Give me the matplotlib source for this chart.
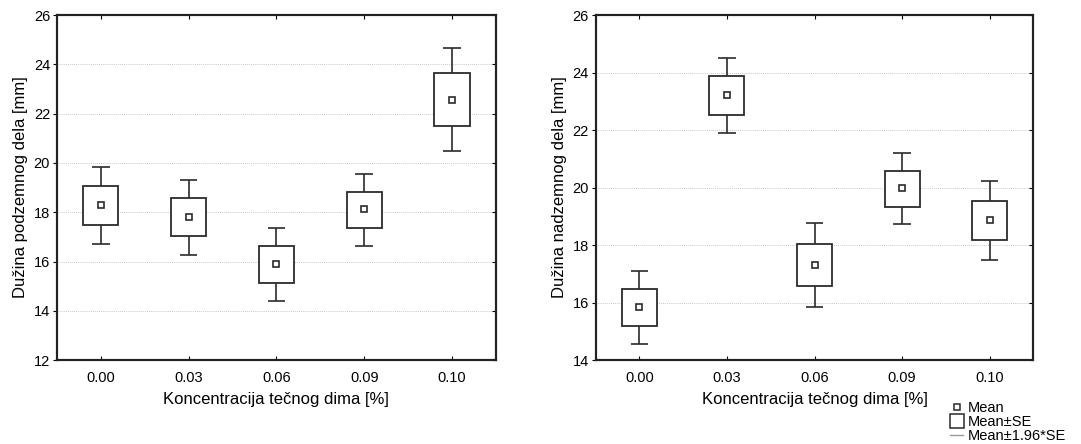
import numpy as np
import matplotlib.pyplot as plt
from matplotlib.lines import Line2D

plt.rcParams['font.family'] = ['Liberation Sans', 'DejaVu Sans']

categories = ['0.00', '0.03', '0.06', '0.09', '0.10']

# left panel: underground part length
pod_mean = [18.30, 17.82, 15.90, 18.12, 22.57]
pod_se_lo = [17.48, 17.02, 15.11, 17.35, 21.50]
pod_se_hi = [19.07, 18.57, 16.63, 18.83, 23.64]
pod_ci_lo = [16.72, 16.27, 14.38, 16.64, 20.48]
pod_ci_hi = [19.84, 19.32, 17.36, 19.55, 24.66]

# right panel: above-ground part length
nad_mean = [15.84, 23.22, 17.32, 19.98, 18.86]
nad_se_lo = [15.17, 22.54, 16.57, 19.32, 18.17]
nad_se_hi = [16.47, 23.87, 18.04, 20.58, 19.55]
nad_ci_lo = [14.56, 21.89, 15.86, 18.72, 17.48]
nad_ci_hi = [17.09, 24.52, 18.76, 21.19, 20.23]

line_col = '#2b2b2b'


def draw_panel(ax, mean, se_lo, se_hi, ci_lo, ci_hi, ylim, ylabel):
    x = np.arange(len(categories))
    se_lo, se_hi = np.array(se_lo), np.array(se_hi)
    ax.vlines(x, ci_lo, se_lo, color=line_col, lw=1.2, zorder=2)
    ax.vlines(x, se_hi, ci_hi, color=line_col, lw=1.2, zorder=2)
    ax.hlines(ci_lo, x - 0.1, x + 0.1, color=line_col, lw=1.2, zorder=2)
    ax.hlines(ci_hi, x - 0.1, x + 0.1, color=line_col, lw=1.2, zorder=2)
    ax.bar(x, se_hi - se_lo, bottom=se_lo, width=0.4, facecolor='white',
           edgecolor=line_col, linewidth=1.3, zorder=3)
    ax.plot(x, mean, ls='none', marker='s', ms=4, mfc='white', mec=line_col,
            mew=1.2, zorder=4)
    ax.set_xlim(-0.5, len(categories) - 0.5)
    ax.set_ylim(*ylim)
    yt = np.arange(ylim[0], ylim[1] + 1, 2)
    ax.set_yticks(yt)
    ax.set_xticks(x)
    ax.set_xticklabels(categories)
    ax.yaxis.grid(True, linestyle=(0, (1, 1.5)), color='#b5b5b5', lw=0.6)
    ax.set_axisbelow(True)
    ax.tick_params(axis='y', direction='out', length=3, labelsize=10.5, pad=2)
    ax.tick_params(axis='x', direction='in', length=3, labelsize=10.5, pad=8,
                   top=True)
    # inward ticks on the right spine
    tw = ax.twinx()
    tw.set_ylim(*ylim)
    tw.set_yticks(yt)
    tw.tick_params(direction='in', length=3, labelright=False)
    for a in (ax, tw):
        for s in a.spines.values():
            s.set_linewidth(1.5)
            s.set_color('#222222')
    ax.set_xlabel('Koncentracija tečnog dima [%]', fontsize=12, labelpad=5)
    ax.set_ylabel(ylabel, fontsize=12, labelpad=4)


fig = plt.figure(figsize=(10.81, 4.44), dpi=100)
ax1 = fig.add_axes([0.0527, 0.189, 0.406, 0.777])
ax2 = fig.add_axes([0.551, 0.189, 0.405, 0.777])

draw_panel(ax1, pod_mean, pod_se_lo, pod_se_hi, pod_ci_lo, pod_ci_hi,
           (12, 26), 'Dužina podzemnog dela [mm]')
draw_panel(ax2, nad_mean, nad_se_lo, nad_se_hi, nad_ci_lo, nad_ci_hi,
           (14, 26), 'Dužina nadzemnog dela [mm]')

handles = [
    Line2D([], [], ls='none', marker='s', ms=4, mfc='white', mec=line_col, mew=1.1),
    Line2D([], [], ls='none', marker='s', ms=10, mfc='white', mec=line_col, mew=1.1),
    Line2D([], [], ls='-', color='#999999', lw=1.0),
]
fig.legend(handles, ['Mean', 'Mean±SE', 'Mean±1.96*SE'], loc='upper left',
           bbox_to_anchor=(0.879, 0.097), frameon=False, fontsize=10.5,
           handlelength=0.9, handletextpad=0.3, labelspacing=0.0,
           borderpad=0, borderaxespad=0)

fig.savefig('out.png', dpi=100)
